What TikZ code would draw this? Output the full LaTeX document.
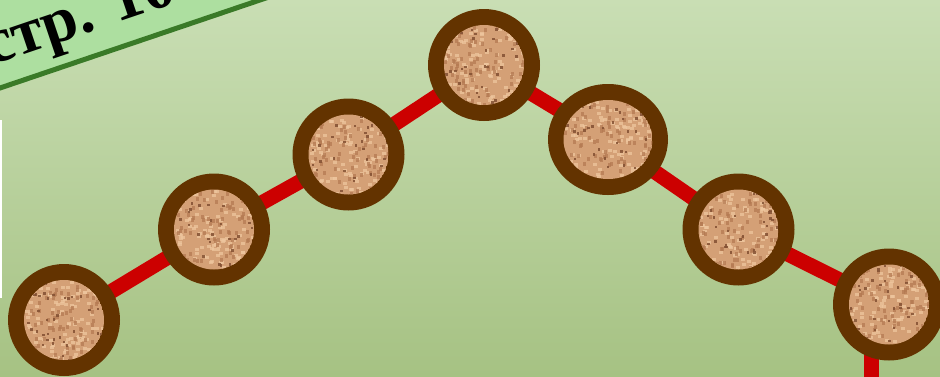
\documentclass[tikz,border=0pt]{standalone}
\usepackage{fontspec}
\setmainfont{Liberation Serif}
\usetikzlibrary{calc}
\definecolor{bgtop}{RGB}{201,222,180}
\definecolor{bgbot}{RGB}{166,194,131}
\definecolor{bannerfill}{RGB}{173,223,160}
\definecolor{bannerline}{RGB}{58,122,40}
\definecolor{ringbrown}{RGB}{99,51,0}
\definecolor{sandbase}{RGB}{212,160,118}
\definecolor{sanddark}{RGB}{130,80,50}
\definecolor{sandlight}{RGB}{238,198,158}
\definecolor{sandmid}{RGB}{180,122,82}
\definecolor{pathred}{RGB}{204,0,0}
\tikzset{
  redpath/.style={draw=pathred, line width=15pt},
  bannerbox/.style={fill=bannerfill, draw=bannerline, line width=5pt},
  bannertext/.style={font=\fontsize{64}{66}\selectfont\bfseries, text=black, inner sep=0pt, anchor=base west, rotate=18.7},
}
\newcommand\sanddisk[5]{%
  \fill[ringbrown] (#1) ellipse [x radius=#2, y radius=#3];
  \begin{scope}
    \clip (#1) ellipse [x radius=#4, y radius=#5];
    \fill[sandbase] (#1) ellipse [x radius=#4, y radius=#5];
    \foreach \k in {1,...,110} {
      \fill[sandlight, opacity=0.75] ($(#1)+({#4*rand},{#5*rand})$) rectangle ++(4,3);
    }
    \foreach \k in {1,...,80} {
      \fill[sandmid, opacity=0.75] ($(#1)+({#4*rand},{#5*rand})$) rectangle ++(3,4);
    }
    \foreach \k in {1,...,35} {
      \fill[sanddark, opacity=0.85] ($(#1)+({#4*rand},{#5*rand})$) rectangle ++(2.5,2.5);
    }
  \end{scope}}
\begin{document}
\begin{tikzpicture}[x=1pt,y=-1pt]
\pgfmathsetseed{42}
\useasboundingbox (0,0) rectangle (940,376);
\clip (0,0) rectangle (940,376);
\shade[top color=bgtop, bottom color=bgbot] (0,0) rectangle (940,376);
% left edge strip
\fill[white] (0,120) rectangle (1.5,298);
% banner
\begin{scope}[shift={(0,88)}, rotate=18.7]
  \path[bannerbox] (-200,0) rectangle (700,-200);
  \node[bannertext] (lbl) at (-1,-24) {стр. 10};
\end{scope}
% path points
\coordinate (p1) at (64,320);
\coordinate (p2) at (214,229.5);
\coordinate (p3) at (348.5,154.5);
\coordinate (p4) at (484,65);
\coordinate (p5) at (608,139.5);
\coordinate (p6) at (738.5,229.5);
\coordinate (p7) at (889,304.5);
\coordinate (p7a) at (871,330);
\coordinate (pend) at (871,390);
\draw[redpath] (p1) -- (p2) -- (p3) -- (p4) -- (p5) -- (p6) -- (p7);
\draw[redpath] (p7a) -- (pend);
% disks
\sanddisk{p1}{56}{56}{40}{40}
\sanddisk{p2}{56}{56}{40}{40}
\sanddisk{p3}{56}{56}{40}{40}
\sanddisk{p4}{56}{56}{40}{40}
\sanddisk{p5}{60}{55.5}{44.5}{39.5}
\sanddisk{p6}{56}{56}{40}{40}
\sanddisk{p7}{56}{56}{40}{40}
\end{tikzpicture}
\end{document}
